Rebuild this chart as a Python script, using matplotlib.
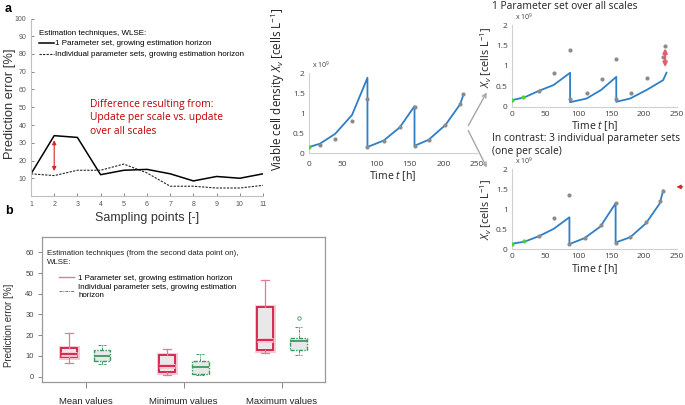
import numpy as np
import matplotlib
matplotlib.use("Agg")
import matplotlib.pyplot as plt
from matplotlib.lines import Line2D
from matplotlib.patches import FancyArrowPatch

W, H = 685, 405

# ---- panel a, left: prediction error per sampling point
sampling_points = list(range(1, 12))
err_one_set = [12.5, 34, 33, 12, 14.5, 15, 12.5, 8.5, 11, 10, 12.5]
err_individual = [12.5, 11.5, 14.5, 14.5, 18, 13, 5.5, 5.5, 4.5, 4.5, 6]

# ---- panel a, middle: measured data + simulation (reference fit)
sim_mid_t = [0, 16, 39, 64, 87, 87, 111, 135, 157, 157, 178, 203, 225, 230]
sim_mid_x = [0.15, 0.23, 0.48, 0.95, 1.88, 0.15, 0.31, 0.64, 1.17, 0.18, 0.33, 0.70, 1.22, 1.47]
data_mid_t = [16, 39, 64, 87, 87, 111, 135, 157, 157, 178, 203, 225, 229]
data_mid_x = [0.21, 0.36, 0.80, 1.36, 0.15, 0.31, 0.64, 1.16, 0.18, 0.33, 0.70, 1.22, 1.47]
used_mid_t = [0]
used_mid_x = [0.15]

# ---- panel a, top right: one parameter set over all scales
sim_top_t = [0, 19, 41, 63, 88, 88, 113, 135, 158, 158, 179, 204, 229, 234]
sim_top_x = [0.16, 0.23, 0.39, 0.53, 0.83, 0.11, 0.20, 0.41, 0.73, 0.12, 0.20, 0.41, 0.65, 0.83]
data_top_t = [41, 64, 88, 88, 113, 136, 158, 158, 181, 205, 229, 232]
data_top_x = [0.38, 0.82, 1.39, 0.18, 0.33, 0.67, 1.17, 0.20, 0.33, 0.71, 1.22, 1.49]
used_top_t = [0, 17]
used_top_x = [0.16, 0.23]

# ---- panel a, bottom right: individual parameter sets
sim_bot_t = [0, 19, 41, 63, 87, 87, 110, 134, 157, 157, 179, 203, 224, 229]
sim_bot_x = [0.14, 0.19, 0.33, 0.51, 0.80, 0.13, 0.28, 0.57, 1.15, 0.17, 0.30, 0.65, 1.15, 1.47]
data_bot_t = [41, 64, 87, 87, 110, 135, 157, 157, 179, 203, 224, 229]
data_bot_x = [0.33, 0.78, 1.36, 0.13, 0.28, 0.62, 1.15, 0.15, 0.30, 0.68, 1.21, 1.46]
used_bot_t = [0, 18]
used_bot_x = [0.14, 0.20]

# ---- panel b: box plot statistics (whislo, q1, med, q3, whishi)
groups = ["Mean values", "Minimum values", "Maximum values"]
red_stats = [(6.5, 9.5, 11, 14, 21), (0.8, 2, 5, 10.5, 13.2), (11.3, 12.7, 17.6, 33.7, 46.5)]
green_stats = [(6, 7.5, 10, 13, 15.5), (1, 1.5, 4.8, 7.5, 11), (10.3, 12.7, 17.2, 18.8, 23.8)]
green_fliers = [[], [], [28.5]]


def rect(l, t, r, b):
    return [l / W, 1 - b / H, (r - l) / W, (b - t) / H]


plt.rcParams["font.family"] = ["Liberation Sans", "DejaVu Sans"]
fig = plt.figure(figsize=(W / 100, H / 100), dpi=100)

LIGHT = "#bfbfbf"
BLUE = "#2e7fc8"
DOT = "#8c8c8c"
GREEN = "#4cd137"
RED = "#c00000"
OPEN = ["Open Sans", "DejaVu Sans"]

# ================= panel a left =================
ax = fig.add_axes(rect(31, 18.5, 263, 196))
ax.plot(sampling_points, err_one_set, color="black", lw=1.1, label="1 Parameter set, growing estimation horizon")
ax.plot(sampling_points, err_individual, color="#222222", lw=0.8, ls=(0, (2, 1.2)),
        label="Individual parameter sets, growing estimation horizon")
ax.set_xlim(1, 11)
ax.set_ylim(0, 100)
ax.set_xticks(sampling_points)
ax.set_yticks(range(10, 101, 10))
ax.tick_params(labelsize=5, colors="#555555", length=2, direction="in", width=0.5)
for s in ["top", "right"]:
    ax.spines[s].set_visible(False)
for s in ["left", "bottom"]:
    ax.spines[s].set_color(LIGHT)
    ax.spines[s].set_linewidth(0.8)
ax.set_ylabel("Prediction error [%]", fontsize=9.3, color="#333333")
ax.yaxis.set_label_coords(-0.064, 0.52)
ax.set_xlabel("Sampling points [-]", fontsize=9, color="#333333", labelpad=3)
ax.legend(loc="upper left", bbox_to_anchor=(0.015, 0.96), frameon=False, fontsize=5.8,
          title="Estimation techniques, WLSE:", title_fontsize=5.8, alignment="left",
          handlelength=1.9, handletextpad=0.1, labelspacing=0.4, borderpad=0)
ax.annotate("", xy=(2, 12.5), xytext=(2, 33),
            arrowprops=dict(arrowstyle="<|-|>", color="#d62728", lw=0.8, mutation_scale=6))
ax.text(3.55, 44, "Difference resulting from:\nUpdate per scale vs. update\nover all scales",
        color=RED, fontsize=7.4, family=OPEN, va="center", linespacing=1.3)

plt.rcParams["font.family"] = OPEN
plt.rcParams["mathtext.fontset"] = "custom"
plt.rcParams["mathtext.it"] = "Open Sans:italic"
plt.rcParams["mathtext.rm"] = "Open Sans"


def cell_axes(r, sim_t, sim_x, dat_t, dat_x, use_t, use_x, xpad):
    a = fig.add_axes(r)
    a.plot(sim_t, sim_x, color=BLUE, lw=1.3, zorder=2)
    a.scatter(dat_t, dat_x, s=9, color=DOT, zorder=3, lw=0)
    a.scatter(use_t, use_x, s=9, color=GREEN, zorder=4, lw=0)
    a.set_xlim(0, 250)
    a.set_ylim(0, 2)
    a.set_xticks([0, 50, 100, 150, 200, 250])
    a.set_yticks([0, 0.5, 1, 1.5, 2])
    a.set_yticklabels(["0", "0.5", "1", "1.5", "2"])
    a.tick_params(labelsize=6, colors="#404040", length=0, pad=3)
    a.tick_params(axis="x", pad=xpad)
    for s in ["top", "right"]:
        a.spines[s].set_visible(False)
    for s in ["left", "bottom"]:
        a.spines[s].set_color("#d0d0d0")
        a.spines[s].set_linewidth(0.8)
    a.text(0.02, 1.06, r"x 10$^9$", transform=a.transAxes, fontsize=5, color="#404040")
    a.set_xlabel(r"Time $t$ [h]", fontsize=7.6, color="#222222", labelpad=1)
    return a


# ================= panel a middle =================
am = cell_axes(rect(309, 73, 477, 153), sim_mid_t, sim_mid_x, data_mid_t, data_mid_x,
               used_mid_t, used_mid_x, xpad=6)
am.set_ylabel(r"Viable cell density $X_v$ [cells L$^{-1}$]", fontsize=8.4, color="#222222")
am.yaxis.set_label_coords(-0.128, 0.8)

# ================= panel a top right =================
at = cell_axes(rect(512, 25, 677, 106.7), sim_top_t, sim_top_x, data_top_t, data_top_x,
               used_top_t, used_top_x, xpad=3)
at.set_ylabel(r"$X_v$ [cells L$^{-1}$]", fontsize=7.8, color="#222222")
at.yaxis.set_label_coords(-0.11, 0.6)
at.annotate("", xy=(232, 0.9), xytext=(232, 1.5),
            arrowprops=dict(arrowstyle="<|-|>", color="#e06070", lw=1.6, mutation_scale=6))
at.text(-0.12, 1.19, "1 Parameter set over all scales", transform=at.transAxes, fontsize=7.4, color="#222222")

# ================= panel a bottom right =================
ab = cell_axes(rect(512, 169.3, 677, 249.3), sim_bot_t, sim_bot_x, data_bot_t, data_bot_x,
               used_bot_t, used_bot_x, xpad=3)
ab.set_ylabel(r"$X_v$ [cells L$^{-1}$]", fontsize=7.8, color="#222222")
ab.yaxis.set_label_coords(-0.11, 0.5)
ab.annotate("", xy=(245, 1.56), xytext=(263, 1.56), annotation_clip=False,
            arrowprops=dict(arrowstyle="-|>", color="#d62728", lw=0.9, mutation_scale=6))
ab.text(-0.12, 1.19, "In contrast: 3 individual parameter sets\n(one per scale)", transform=ab.transAxes,
        fontsize=7.4, color="#222222", linespacing=1.3)

# gray arrows between middle and right plots
for end in [(488, 90), (488, 170)]:
    fig.add_artist(FancyArrowPatch(
        (467 / W, 1 - 128 / H), (end[0] / W, 1 - end[1] / H), transform=fig.transFigure,
        arrowstyle="->", color="#a6a6a6", lw=1.0, mutation_scale=7))

plt.rcParams["font.family"] = ["Liberation Sans", "DejaVu Sans"]

# ================= panel b =================
bx = fig.add_axes(rect(42, 237, 325, 382))
pos = np.arange(1, len(groups) + 1)
RED_B = "#d81b48"
RED_W = "#e57b92"
GREEN_B = "#3a9a5c"
DASH = (0, (3, 1, 1, 1))


def to_stats(vals, fliers=None):
    out = []
    for i, (lo, q1, med, q3, hi) in enumerate(vals):
        out.append(dict(whislo=lo, q1=q1, med=med, q3=q3, whishi=hi,
                        fliers=fliers[i] if fliers else []))
    return out


# faint pink halo behind the red boxes
bx.bxp(to_stats(red_stats), positions=pos - 0.17, widths=0.165, patch_artist=True, showcaps=False,
       boxprops=dict(facecolor="none", edgecolor="#f6c6d0", lw=3.5),
       medianprops=dict(color="#f6c6d0", lw=3.5), whiskerprops=dict(lw=0))
bx.bxp(to_stats(red_stats), positions=pos - 0.17, widths=0.165, patch_artist=True,
       boxprops=dict(facecolor="#e8e8e8", edgecolor=RED_B, lw=1.3),
       medianprops=dict(color=RED_B, lw=1.3),
       whiskerprops=dict(color=RED_W, lw=0.9), capprops=dict(color=RED_W, lw=0.9), capwidths=0.08)
bx.bxp(to_stats(green_stats, green_fliers), positions=pos + 0.17, widths=0.165, patch_artist=True,
       boxprops=dict(facecolor="#e8e8e8", edgecolor=GREEN_B, lw=1.0, ls=DASH),
       medianprops=dict(color=GREEN_B, lw=1.3),
       whiskerprops=dict(color=GREEN_B, lw=0.7, ls=DASH),
       capprops=dict(color=GREEN_B, lw=0.7, ls=DASH), capwidths=0.08,
       flierprops=dict(marker="o", markersize=2.5, markerfacecolor="none", markeredgecolor=GREEN_B, mew=0.6))
bx.set_xlim(0.555, 3.44)
bx.set_ylim(-2.6, 67.4)
bx.set_xticks(pos)
bx.set_xticklabels(groups, fontsize=6.8)
bx.set_yticks(range(0, 61, 10))
bx.tick_params(axis="y", labelsize=5.5, colors="#777777", labelcolor="#444444", length=3, width=0.6, pad=3)
bx.tick_params(axis="x", colors="#777777", length=4, width=0.6, pad=7, labelcolor="#222222")
for s in bx.spines.values():
    s.set_color("#999999")
    s.set_linewidth(0.9)
bx.set_ylabel("Prediction error [%]", fontsize=7, color="#333333")
bx.yaxis.set_label_coords(-0.1, 0.39)
bx.text(0.016, 0.91, "Estimation techniques (from the second data point on),\nWLSE:", transform=bx.transAxes,
        fontsize=5.7, color="#222222", va="top", linespacing=1.35)
handles = [Line2D([], [], color=RED_W, lw=1.0),
           Line2D([], [], color=GREEN_B, lw=0.7, ls=DASH)]
bx.legend(handles, ["1 Parameter set, growing estimation horizon",
                    "Individual parameter sets, growing estimation\nhorizon"],
          loc="upper left", bbox_to_anchor=(0.045, 0.77), frameon=False, fontsize=5.7,
          handlelength=1.9, handletextpad=0.6, labelspacing=0.25, borderpad=0)

# panel letters
fig.text(5 / W, 1 - 9 / H, "a", fontsize=9, fontweight="bold", va="center")
fig.text(5 / W, 1 - 211 / H, "b", fontsize=9, fontweight="bold", va="center")

plt.savefig("out.png", dpi=100)
plt.close()
